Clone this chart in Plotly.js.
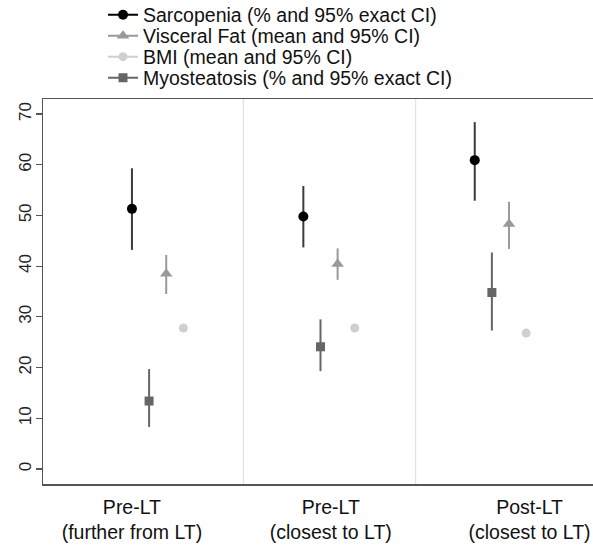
<!DOCTYPE html>
<html>
<head>
<meta charset="utf-8">
<script src="https://cdn.plot.ly/plotly-3.0.1.min.js"></script>
<style>
html,body{margin:0;padding:0;background:#fff;overflow:hidden;}
#chart{width:593px;height:545px;}
</style>
</head>
<body>
<div id="chart"></div>
<script>
// ---- Data ----
const groups = [1, 2, 3];
const groupLabels = ["Pre-LT<br>(further from LT)", "Pre-LT<br>(closest to LT)", "Post-LT<br>(closest to LT)"];

const sarcName = "Sarcopenia (% and 95% exact CI)";
const sarcMean = [51.3, 49.8, 60.9];
const sarcLo   = [43.2, 43.7, 52.9];
const sarcHi   = [59.3, 55.8, 68.4];

const viscName = "Visceral Fat (mean and 95% CI)";
const viscMean = [38.5, 40.4, 48.3];
const viscLo   = [34.5, 37.3, 43.4];
const viscHi   = [42.2, 43.5, 52.7];

const bmiName = "BMI (mean and 95% CI)";
const bmiMean = [27.8, 27.8, 26.8];
const bmiLo   = [27.2, 27.2, 26.2];
const bmiHi   = [28.4, 28.4, 27.4];

const myoName = "Myosteatosis (% and 95% exact CI)";
const myoMean = [13.4, 24.1, 34.8];
const myoLo   = [8.3, 19.3, 27.3];
const myoHi   = [19.7, 29.5, 42.7];

// ---- helpers ----
function interleave(arr) {
  const out = [];
  arr.forEach((v, i) => { if (i > 0) out.push(null); out.push(v); });
  return out;
}
function makeTrace(name, mean, lo, hi, offset, style, legendId) {
  const xs = groups.map(g => g + offset);
  return {
    type: "scatter",
    mode: "lines+markers",
    name: name,
    x: interleave(xs),
    y: interleave(mean),
    connectgaps: false,
    line: {color: style.line, width: 2},
    marker: {color: style.marker, size: style.size, symbol: style.symbol},
    error_y: {
      type: "data", symmetric: false,
      array: interleave(mean.map((m, i) => hi[i] - m)),
      arrayminus: interleave(mean.map((m, i) => m - lo[i])),
      color: style.err, thickness: 2, width: 0
    },
    legend: legendId,
    hoverinfo: "skip"
  };
}

const traces = [
  makeTrace(sarcName, sarcMean, sarcLo, sarcHi, 0.0, {line: "#000", marker: "#000", err: "#3a3a3a", size: 10, symbol: "circle"}, "legend"),
  makeTrace(viscName, viscMean, viscLo, viscHi, 0.2, {line: "#999", marker: "#999", err: "#999", size: 11, symbol: "triangle-up"}, "legend2"),
  makeTrace(bmiName, bmiMean, bmiLo, bmiHi, 0.3, {line: "#cfcfcf", marker: "#cfcfcf", err: "#cfcfcf", size: 9, symbol: "circle"}, "legend3"),
  makeTrace(myoName, myoMean, myoLo, myoHi, 0.1, {line: "#666", marker: "#666", err: "#666", size: 9, symbol: "square"}, "legend4")
];

const FONT = "'Liberation Sans', Arial, Helvetica, sans-serif";
function leg(yPx) {
  return {
    xref: "container", yref: "container",
    x: 103 / 593, y: 1 - yPx / 545, xanchor: "left", yanchor: "middle",
    bgcolor: "rgba(0,0,0,0)", borderwidth: 0,
    font: {family: FONT, size: 19.5, color: "#111"}
  };
}

const layout = {
  width: 593, height: 545,
  margin: {l: 43, r: 0, t: 99, b: 61, pad: 0, autoexpand: false},
  paper_bgcolor: "#fff", plot_bgcolor: "#fff",
  font: {family: FONT, color: "#111"},
  showlegend: true,
  legend: leg(15),
  legend2: leg(36),
  legend3: leg(57),
  legend4: leg(78),
  xaxis: {
    range: [0.481, 3.69],
    automargin: false,
    showgrid: false, zeroline: false,
    showline: true, mirror: true, linecolor: "#555", linewidth: 1.5,
    ticks: "outside", ticklen: 5, tickcolor: "rgba(0,0,0,0)",
    tickmode: "array",
    tickangle: 0,
    tickvals: [1.0, 2.16, 3.32],
    ticktext: groupLabels,
    tickfont: {family: FONT, size: 19.5, color: "#111"}
  },
  yaxis: {
    range: [-2.96, 72.96],
    automargin: false,
    showgrid: false, zeroline: false,
    showline: true, linecolor: "#555", linewidth: 1.5,
    ticks: "outside", ticklen: 6, tickwidth: 1.2, tickcolor: "#555",
    tickmode: "array", tickvals: [0, 10, 20, 30, 40, 50, 60, 70],
    tickangle: -90,
    ticklabelstandoff: -2,
    tickfont: {family: FONT, size: 17, color: "#222"}
  },
  shapes: [1.65, 2.655].map(v => ({
    type: "line", xref: "x", yref: "paper", x0: v, x1: v, y0: 0, y1: 1,
    line: {color: "#e2e2e2", width: 1.2}, layer: "below"
  }))
};

Plotly.newPlot("chart", traces, layout, {staticPlot: true, displayModeBar: false});
</script>
</body>
</html>
